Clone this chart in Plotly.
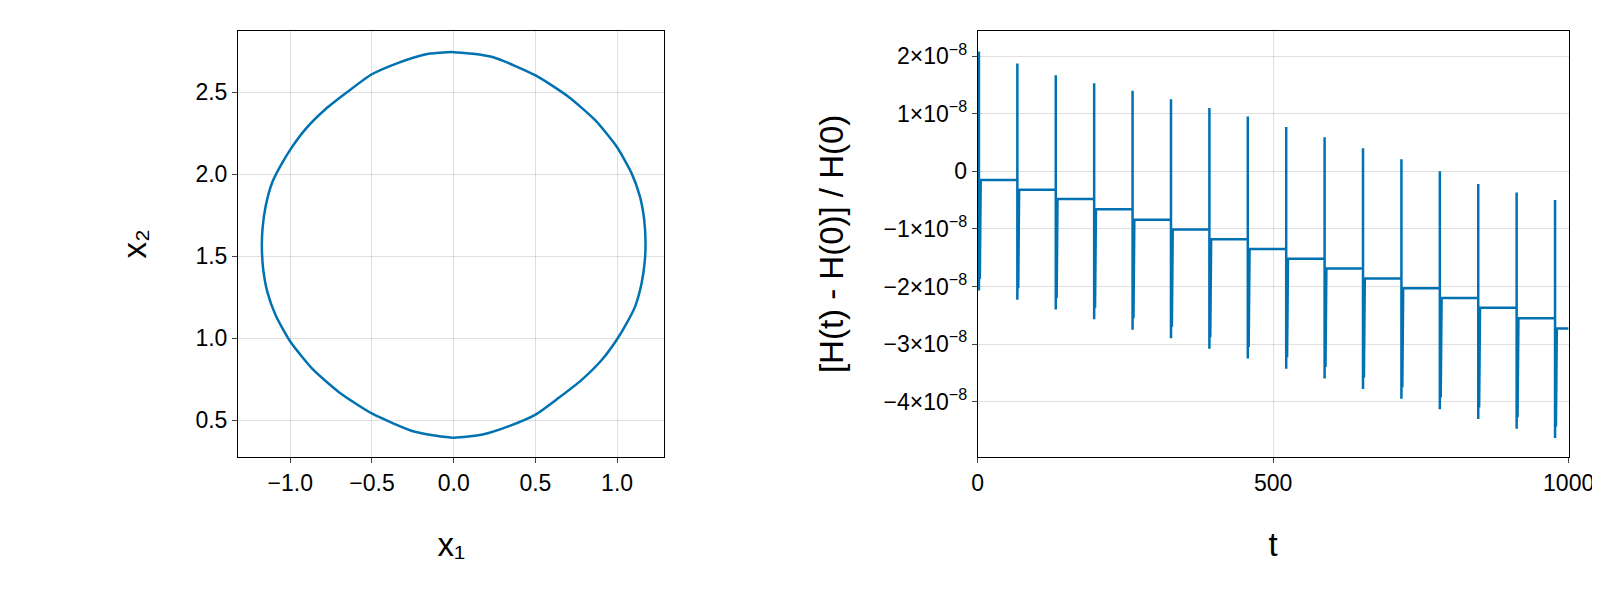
import plotly.graph_objects as go

# orbit points (x1, x2): right half, top to bottom
right_x1 = [0.0, 0.237, 0.501, 0.704, 0.866, 0.998, 1.089, 1.14, 1.166, 1.174, 1.17, 1.15, 1.11, 1.059,
            0.998, 0.907, 0.785, 0.643, 0.501, 0.339, 0.176, 0.0]
right_x2 = [2.743, 2.713, 2.601, 2.47, 2.328, 2.166, 2.004, 1.862, 1.72, 1.58, 1.476, 1.334, 1.192, 1.091,
            0.99, 0.868, 0.747, 0.636, 0.534, 0.464, 0.413, 0.393]
# left half, bottom to top (read as the mirror shape of the right half)
left_x1 = [-0.237, -0.501, -0.704, -0.866, -0.998, -1.089, -1.14, -1.166, -1.174, -1.17, -1.15, -1.11, -1.059,
           -0.998, -0.907, -0.785, -0.643, -0.501, -0.339, -0.176, 0.0]
left_x2 = [0.429, 0.541, 0.672, 0.814, 0.976, 1.138, 1.28, 1.422, 1.562, 1.666, 1.808, 1.95, 2.051,
           2.152, 2.274, 2.395, 2.506, 2.608, 2.678, 2.729, 2.743]
orb_x1 = right_x1 + left_x1
orb_x2 = right_x2 + left_x2

# energy error: step times, plateau levels, spike tops/bottoms (units 1e-8)
step_t = [2, 67, 132, 197, 262, 327, 392, 457, 522, 587, 652, 717, 782, 847, 912, 977]
levels = [-0.15, -0.32, -0.48, -0.66, -0.84, -1.01, -1.18, -1.35, -1.52, -1.69, -1.86, -2.03, -2.20, -2.37, -2.55, -2.73]
tops = [2.08, 1.87, 1.67, 1.53, 1.40, 1.25, 1.10, 0.95, 0.77, 0.59, 0.40, 0.21, 0.0, -0.22, -0.37, -0.50]
bottoms = [-2.07, -2.23, -2.40, -2.57, -2.75, -2.90, -3.08, -3.25, -3.43, -3.60, -3.78, -3.95, -4.13, -4.30, -4.47, -4.63]
t_end = 1000

ht, hv = [0], [0.0]
prev = 0.0
for i, t0 in enumerate(step_t):
    ht += [t0, t0, t0, t0 + 0.5, t0 + 1.5, t0 + 1.5, t0 + 3]
    hv += [prev, tops[i], bottoms[i], levels[i] - 0.6, levels[i] - 0.3, bottoms[i] + 0.2, levels[i]]
    nxt = step_t[i + 1] if i + 1 < len(step_t) else t_end
    ht.append(nxt)
    hv.append(levels[i])
    prev = levels[i]
hv = [v * 1e-8 for v in hv]

blue = "#0072b2"
font = dict(family="Liberation Sans, Arial", size=23, color="black")
fig = go.Figure()
fig.add_trace(go.Scatter(x=orb_x1, y=orb_x2, mode="lines",
                         line=dict(color=blue, width=2.5, shape="spline", smoothing=0.6),
                         xaxis="x", yaxis="y", showlegend=False))
fig.add_trace(go.Scatter(x=ht, y=hv, mode="lines", line=dict(color=blue, width=2.5),
                         xaxis="x2", yaxis="y2", showlegend=False))

ax = dict(showline=True, linecolor="black", linewidth=1, mirror=True, gridcolor="rgba(0,0,0,0.12)",
          zeroline=False, ticks="outside", ticklen=5, tickfont=font, automargin=False)
tf = dict(size=33)
yv = [2e-8, 1e-8, 0, -1e-8, -2e-8, -3e-8, -4e-8]
yt = ["2×10<sup>−8</sup>", "1×10<sup>−8</sup>", "0", "−1×10<sup>−8</sup>", "−2×10<sup>−8</sup>",
      "−3×10<sup>−8</sup>", "−4×10<sup>−8</sup>"]
fig.update_layout(
    width=1600, height=600, paper_bgcolor="white", plot_bgcolor="white",
    margin=dict(l=0, r=0, t=0, b=0), font=font,
    xaxis=dict(ax, domain=[0.14375, 0.4103], range=[-1.32, 1.29], tickvals=[-1, -0.5, 0, 0.5, 1],
               ticktext=["−1.0", "−0.5", "0.0", "0.5", "1.0"],
               title=dict(text="x₁", font=tf, standoff=38)),
    yaxis=dict(ax, domain=[0.2518, 0.962], range=[0.276, 2.873], tickvals=[0.5, 1, 1.5, 2, 2.5],
               ticktext=["0.5", "1.0", "1.5", "2.0", "2.5"], title=dict(text="x₂", font=tf, standoff=38)),
    xaxis2=dict(ax, domain=[0.6061, 0.9754], range=[0, 1000], tickvals=[0, 500, 1000],
                anchor="y2", title=dict(text="t", font=tf, standoff=38)),
    yaxis2=dict(ax, domain=[0.2518, 0.962], range=[-4.96e-8, 2.44e-8], tickvals=yv, ticktext=yt,
                anchor="x2", title=dict(text="[H(t) - H(0)] / H(0)", font=tf, standoff=30)),
)
fig.write_html("out.html")
